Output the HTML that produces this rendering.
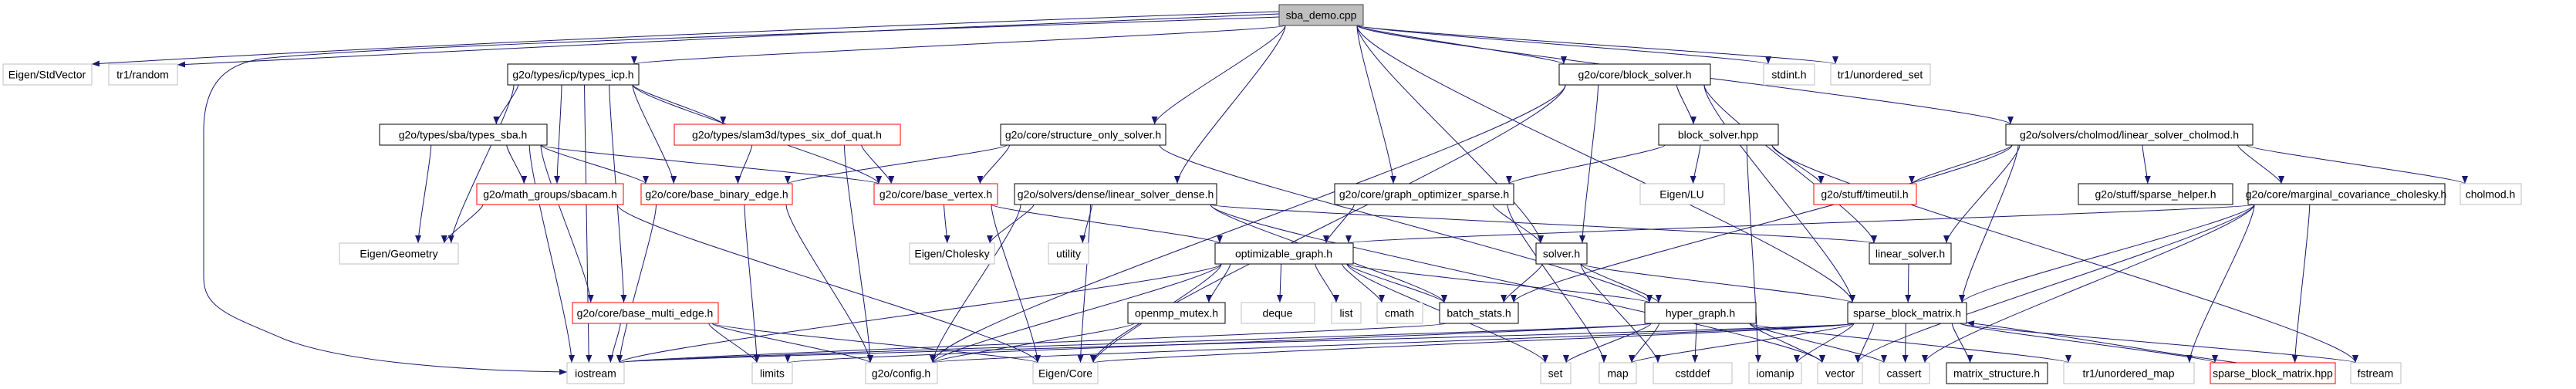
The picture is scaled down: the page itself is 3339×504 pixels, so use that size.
<!DOCTYPE html>
<html><head><meta charset="utf-8"><style>
html,body{margin:0;padding:0;background:#fff;}
svg{display:block;}
text{font-family:"Liberation Sans",sans-serif;font-size:14px;fill:#000;}
</style></head><body>
<svg id="g" width="3339" height="504" xmlns="http://www.w3.org/2000/svg">
<defs><marker id="a" markerWidth="10" markerHeight="8" refX="10" refY="4" orient="auto" markerUnits="userSpaceOnUse"><path d="M0,0 L10,4 L0,8 z" fill="#191970"/></marker></defs>
<g id="edges" fill="none" stroke="#191970" stroke-width="1"></g>
<g id="nodes">
<rect x="1658" y="6" width="109" height="27" fill="#bfbfbf" stroke="#404040" stroke-width="1"/>
</g>
<g id="labels" font-family="Liberation Sans, sans-serif" font-size="14" text-anchor="middle">
<text x="1712.5" y="24.5">sba_demo.cpp</text>
<text x="61" y="101.5">Eigen/StdVector</text>
<text x="185" y="101.5">tr1/random</text>
<text x="743" y="101.5">g2o/types/icp/types_icp.h</text>
<text x="2119" y="101.5">g2o/core/block_solver.h</text>
<text x="2319" y="101.5">stdint.h</text>
<text x="2437" y="101.5">tr1/unordered_set</text>
<text x="600" y="179.5">g2o/types/sba/types_sba.h</text>
<text x="1020" y="179.5">g2o/types/slam3d/types_six_dof_quat.h</text>
<text x="1404" y="179.5">g2o/core/structure_only_solver.h</text>
<text x="2227" y="179.5">block_solver.hpp</text>
<text x="2760" y="179.5">g2o/solvers/cholmod/linear_solver_cholmod.h</text>
<text x="713" y="256.5">g2o/math_groups/sbacam.h</text>
<text x="929" y="256.5">g2o/core/base_binary_edge.h</text>
<text x="1213" y="256.5">g2o/core/base_vertex.h</text>
<text x="1446" y="256.5">g2o/solvers/dense/linear_solver_dense.h</text>
<text x="1846" y="256.5">g2o/core/graph_optimizer_sparse.h</text>
<text x="2180" y="256.5">Eigen/LU</text>
<text x="2417" y="256.5">g2o/stuff/timeutil.h</text>
<text x="2794" y="256.5">g2o/stuff/sparse_helper.h</text>
<text x="3041" y="256.5">g2o/core/marginal_covariance_cholesky.h</text>
<text x="3228" y="256.5">cholmod.h</text>
<text x="517" y="333.5">Eigen/Geometry</text>
<text x="1234" y="333.5">Eigen/Cholesky</text>
<text x="1385" y="333.5">utility</text>
<text x="1664" y="333.5">optimizable_graph.h</text>
<text x="2024" y="333.5">solver.h</text>
<text x="2476" y="333.5">linear_solver.h</text>
<text x="836" y="410.5">g2o/core/base_multi_edge.h</text>
<text x="1525" y="410.5">openmp_mutex.h</text>
<text x="1656" y="410.5">deque</text>
<text x="1745" y="410.5">list</text>
<text x="1814" y="410.5">cmath</text>
<text x="1917" y="410.5">batch_stats.h</text>
<text x="2204" y="410.5">hyper_graph.h</text>
<text x="2472" y="410.5">sparse_block_matrix.h</text>
<text x="772" y="488.5">iostream</text>
<text x="1001" y="488.5">limits</text>
<text x="1168" y="488.5">g2o/config.h</text>
<text x="1381" y="488.5">Eigen/Core</text>
<text x="2016" y="488.5">set</text>
<text x="2097" y="488.5">map</text>
<text x="2194" y="488.5">cstddef</text>
<text x="2301" y="488.5">iomanip</text>
<text x="2385" y="488.5">vector</text>
<text x="2468" y="488.5">cassert</text>
<text x="2588" y="488.5">matrix_structure.h</text>
<text x="2759" y="488.5">tr1/unordered_map</text>
<text x="2946" y="488.5">sparse_block_matrix.hpp</text>
<text x="3079" y="488.5">fstream</text>
</g>
</svg>
<script>
var R=[6,83,161,238,315,392,470];
var N={
StdVector:[4,119,1,"g"],random:[141,230,1,"g"],icp:[658,828,1,"b"],bs:[2021,2217,1,"b"],
stdint:[2286,2352,1,"g"],uset:[2373,2502,1,"g"],sba:[492,709,2,"b"],six:[874,1167,2,"r"],
sos:[1297,1511,2,"b"],bshpp:[2150,2305,2,"b"],chol:[2600,2920,2,"b"],sbacam:[618,808,3,"r"],
bbe:[831,1027,3,"r"],bv:[1133,1293,3,"r"],lsd:[1315,1577,3,"b"],gos:[1730,1962,3,"b"],
lu:[2126,2235,3,"g"],tu:[2351,2484,3,"r"],sh:[2694,2894,3,"b"],mc:[2914,3169,3,"b"],
cholh:[3189,3268,3,"g"],geo:[440,594,4,"g"],cholesky:[1179,1289,4,"g"],utility:[1359,1411,4,"g"],
og:[1575,1754,4,"b"],solver:[1991,2057,4,"b"],ls:[2423,2529,4,"b"],bme:[742,931,5,"r"],
omp:[1462,1588,5,"b"],deque:[1609,1704,5,"g"],list:[1726,1764,5,"g"],cmath:[1785,1844,5,"g"],
batch:[1866,1968,5,"b"],hg:[2132,2276,5,"b"],sbm:[2395,2549,5,"b"],iostream:[735,809,6,"g"],
limits:[975,1027,6,"g"],config:[1122,1215,6,"g"],core:[1339,1423,6,"g"],set:[1997,2036,6,"g"],
map:[2073,2121,6,"g"],cstddef:[2143,2245,6,"g"],iomanip:[2267,2335,6,"g"],vector:[2356,2414,6,"g"],
cassert:[2436,2501,6,"g"],ms:[2523,2654,6,"b"],umap:[2675,2844,6,"g"],sbmhpp:[2865,3027,6,"r"],
fstream:[3047,3112,6,"g"]
};
N.demo=[1658,1767,0,""];
var NS="http://www.w3.org/2000/svg";
var ng=document.getElementById("nodes"),eg=document.getElementById("edges");
for(var k in N){if(k=="demo")continue;var n=N[k];
 var r=document.createElementNS(NS,"rect");var y=R[n[2]];
 r.setAttribute("x",n[0]);r.setAttribute("y",y);r.setAttribute("width",n[1]-n[0]);r.setAttribute("height",27);
 r.setAttribute("fill","#fff");r.setAttribute("stroke",n[3]=="g"?"#bfbfbf":n[3]=="r"?"#ff0000":"#000");
 ng.appendChild(r);
}
var E={
demo:["StdVector","random","icp","sos","lsd","gos","solver","bs","stdint","uset","chol","sbm"],
icp:["sba","sbacam","bbe","six","bv","geo","iostream","bme"],
sba:["sbacam","bbe","bv","geo","bme","iostream"],
six:["bbe","bv","config"],
sos:["bv","bbe","hg"],
sbacam:["geo","core"],
bbe:["iostream","limits","config"],
bv:["cholesky","core","og"],
lsd:["cholesky","utility","core","ls","batch","config","vector"],
gos:["og","solver","map"],
bs:["config","solver","bshpp","ls","sbm","core"],
bshpp:["gos","lu","tu","iomanip","fstream"],
chol:["tu","sh","mc","cholh","ls","batch","sbm"],
mc:["og","sbm","cassert","vector","umap","sbmhpp"],
og:["deque","list","cmath","omp","hg","set","iostream","config","core","batch"],
solver:["batch","hg","sbm","cstddef"],
ls:["sbm"],
hg:["set","map","cstddef","iostream","limits","vector","umap","cassert"],
sbm:["iostream","config","vector","ms","cassert","sbmhpp","fstream","iomanip","map","core"],
bme:["iostream","limits","config","core"],
omp:["config"],
batch:["iostream"]
};
function cl(v,a,b){return Math.max(a,Math.min(b,v));}
for(var s in E){E[s].forEach(function(t){
 var S=N[s],T=N[t];var scx=(S[0]+S[1])/2,tcx=(T[0]+T[1])/2;
 var sy=R[S[2]]+27,ty=R[T[2]];
 var sx=cl(scx+(tcx-scx)*0.5,S[0]+8,S[1]-8);
 var tx=cl(tcx+(scx-tcx)*0.3,T[0]+6,T[1]-6);
 var d;
 if(s=="demo"&&t=="StdVector"){d="M1658,15 C1200,30 500,60 119,83";}
 else if(s=="demo"&&t=="random"){d="M1658,18 C1200,35 600,65 230,84";}
 else{var dy=(ty-sy)*0.15;d="M"+sx+","+sy+" C"+sx+","+(sy+dy)+" "+tx+","+(ty-dy)+" "+tx+","+ty;}
 var p=document.createElementNS(NS,"path");p.setAttribute("d",d);p.setAttribute("marker-end","url(#a)");eg.appendChild(p);
});}
var p=document.createElementNS(NS,"path");
p.setAttribute("d","M1658,22 C1000,45 500,60 350,75 C290,80 264,110 264,170 L264,360 C264,400 300,410 370,440 C450,470 600,480 735,482");
p.setAttribute("marker-end","url(#a)");eg.appendChild(p);
var p2=document.createElementNS(NS,"path");
p2.setAttribute("d","M2900,470 C2750,450 2650,430 2549,418");p2.setAttribute("marker-end","url(#a)");eg.appendChild(p2);
</script>
</body></html>
